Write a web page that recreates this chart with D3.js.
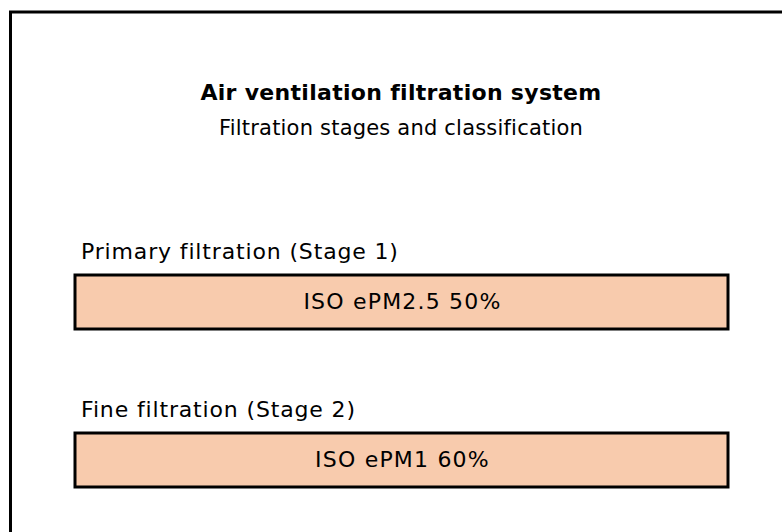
<!DOCTYPE html>
<html>
<head>
<meta charset="utf-8">
<script src="https://cdn.jsdelivr.net/npm/d3@7"></script>
<style>
  body { margin: 0; background: #fff; }
  svg { display: block; }
</style>
</head>
<body>
<div id="chart"></div>
<script>
var width = 782
var height = 532
var fontFamily = "Verdana, 'DejaVu Sans', sans-serif"
var boxFill = "#f8cbad"

var titleText = "Air ventilation filtration system"
var subtitleText = "Filtration stages and classification"
var stageLabels = ["Primary filtration (Stage 1)", "Fine filtration (Stage 2)"]
var stageClasses = ["ISO ePM2.5 50%", "ISO ePM1 60%"]

var svg = d3.select("#chart")
  .append("svg")
  .attr("width", width)
  .attr("height", height)

// outer frame, only top and left edges are visible
svg.append("rect")
  .attr("x", 10.5)
  .attr("y", 12)
  .attr("width", 900)
  .attr("height", 700)
  .attr("fill", "none")
  .attr("stroke", "black")
  .attr("stroke-width", 3)

svg.append("text")
  .attr("x", 401)
  .attr("y", 100)
  .attr("text-anchor", "middle")
  .attr("font-weight", "bold")
  .attr("letter-spacing", 0.3)
  .call(textAttr, "black", fontFamily, "22px")
  .text(titleText)

svg.append("text")
  .attr("x", 401)
  .attr("y", 135)
  .attr("text-anchor", "middle")
  .attr("letter-spacing", 0.2)
  .call(textAttr, "black", fontFamily, "21px")
  .text(subtitleText)

var y = d3.scaleBand()
  .domain(stageLabels)
  .range([222, 538])
  .paddingInner(0)

var x = d3.scaleLinear()
  .domain([0, 1])
  .range([75, 728])

var stages = svg.selectAll("g.stage")
  .data(stageLabels)
  .enter()
  .append("g")
  .attr("class", "stage")
  .attr("transform", d => `translate(0,${y(d)})`)

stages.append("text")
  .attr("x", 81)
  .attr("y", 37)
  .attr("letter-spacing", 0.85)
  .call(textAttr, "black", fontFamily, "22px")
  .text(d => d)

stages.append("rect")
  .attr("x", x(0))
  .attr("y", 53)
  .attr("width", x(1) - x(0))
  .attr("height", 54)
  .attr("fill", boxFill)
  .attr("stroke", "black")
  .attr("stroke-width", 3)

stages.append("text")
  .attr("x", (x(0) + x(1)) / 2 + 1)
  .attr("y", 87)
  .attr("text-anchor", "middle")
  .attr("letter-spacing", 1.2)
  .call(textAttr, "black", fontFamily, "22px")
  .text((d, i) => stageClasses[i])

function textAttr(selection, fill, family, size) {
  selection
    .attr("fill", fill)
    .attr("font-family", family)
    .attr("font-size", size)
}
</script>
</body>
</html>
